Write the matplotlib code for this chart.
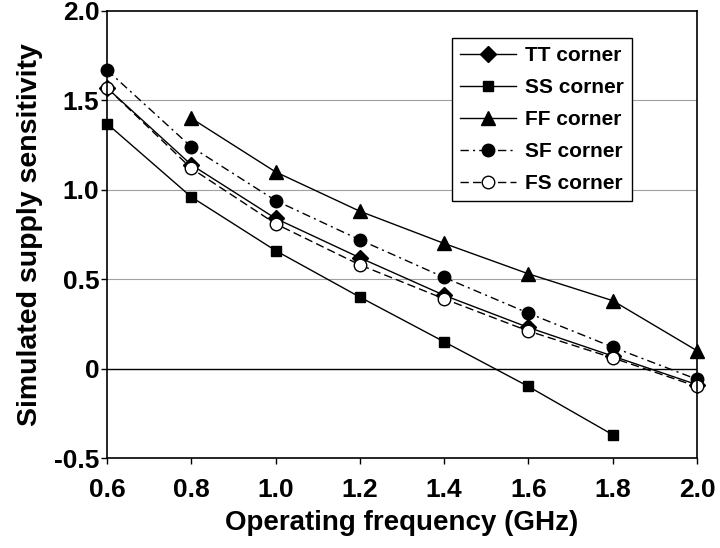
import matplotlib
matplotlib.use("Agg")
import matplotlib.pyplot as plt

plt.rcParams['font.family'] = ['Liberation Sans', 'DejaVu Sans']

freq = [0.6, 0.8, 1.0, 1.2, 1.4, 1.6, 1.8, 2.0]
tt = [1.57, 1.14, 0.84, 0.62, 0.41, 0.23, 0.07, -0.09]
ss = [1.37, 0.96, 0.66, 0.40, 0.15, -0.10, -0.37]
ff_freq = [0.8, 1.0, 1.2, 1.4, 1.6, 1.8, 2.0]
ff = [1.40, 1.10, 0.88, 0.70, 0.53, 0.38, 0.10]
sf = [1.67, 1.24, 0.94, 0.72, 0.51, 0.31, 0.12, -0.06]
fs = [1.57, 1.12, 0.81, 0.58, 0.39, 0.21, 0.06, -0.10]

xticks = [0.6, 0.8, 1.0, 1.2, 1.4, 1.6, 1.8, 2.0]
xticklabels = ["0.6", "0.8", "1.0", "1.2", "1.4", "1.6", "1.8", "2.0"]
yticks = [-0.5, 0, 0.5, 1.0, 1.5, 2.0]
yticklabels = ["-0.5", "0", "0.5", "1.0", "1.5", "2.0"]

fig = plt.figure(figsize=(7.2, 5.48), dpi=100)
ax = fig.add_axes([107/720, 1-458/548, 590/720, 447/548])

for y in [0.5, 1.0, 1.5]:
    ax.axhline(y, color='#a0a0a0', lw=0.8, zorder=0)
ax.axhline(0, color='black', lw=1.0, zorder=0)

kw = dict(color='black', lw=1.0, clip_on=False)
ax.plot(freq, tt, marker='D', ms=8, label='TT corner', ls='-', **kw)
ax.plot(freq[:7], ss, marker='s', ms=7.5, label='SS corner', ls='-', **kw)
ax.plot(ff_freq, ff, marker='^', ms=10.5, label='FF corner', ls='-', **kw)
ax.plot(freq, sf, marker='o', ms=9, label='SF corner', ls=(0, (6, 3, 1.5, 3)), **kw)
ax.plot(freq, fs, marker='o', ms=9, mfc='white', label='FS corner', ls=(0, (6, 3)), **kw)

ax.set_xlim(0.6, 2.0)
ax.set_ylim(-0.5, 2.0)
ax.set_xticks(xticks)
ax.set_xticklabels(xticklabels, fontsize=19, fontweight='bold')
ax.set_yticks(yticks)
ax.set_yticklabels(yticklabels, fontsize=19, fontweight='bold')
ax.tick_params(direction='out', length=4.5, width=1)
ax.tick_params(axis='x', pad=10)
ax.tick_params(axis='y', pad=1)
for s in ax.spines.values():
    s.set_linewidth(1.2)

ax.set_xlabel('Operating frequency (GHz)', fontsize=20, fontweight='bold', labelpad=6)
ax.set_ylabel('Simulated supply sensitivity', fontsize=20.5, fontweight='bold', labelpad=8)

leg = ax.legend(loc='upper left', bbox_to_anchor=(0.585, 0.94), frameon=True, fancybox=False,
                edgecolor='black', framealpha=1, handlelength=2.65, labelspacing=0.62,
                prop={'weight': 'bold', 'size': 15}, borderpad=0.4, handletextpad=0.45,
                borderaxespad=0)
leg.get_frame().set_linewidth(1.0)

fig.savefig('out.png', dpi=100)
